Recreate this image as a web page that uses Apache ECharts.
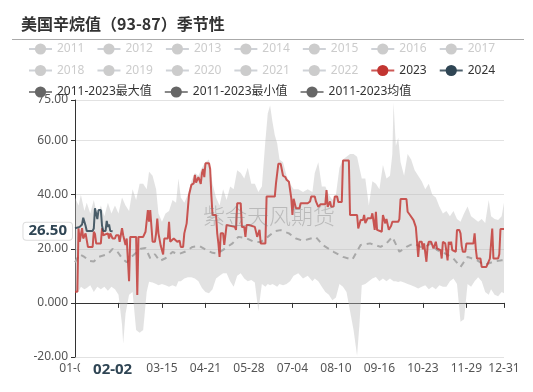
<!DOCTYPE html>
<html><head><meta charset="utf-8">
<script src="https://cdn.jsdelivr.net/npm/echarts@6/dist/echarts.min.js"></script>
<style>html,body{margin:0;padding:0;background:#fff}#c{width:533px;height:392px}</style>
</head><body><div id="c"></div>
<script>
// ---------- text ----------
const titleText = '美国辛烷值（93-87）季节性';
const watermarkText = '紫金天风期货';
const yearNames = ['2011','2012','2013','2014','2015','2016','2017','2018','2019','2020','2021','2022','2023','2024'];
const maxName = '2011-2023最大值';
const minName = '2011-2023最小值';
const meanName = '2011-2023均值';

// ---------- categories (MM-DD of a leap year) ----------
const monthDays = [31,29,31,30,31,30,31,31,30,31,30,31];
const categories = [];
monthDays.forEach((n, m) => { for (let d = 1; d <= n; d++) categories.push(String(m+1).padStart(2,'0') + '-' + String(d).padStart(2,'0')); });

// ---------- data: [day index into categories, value] ----------
const data2023 = [[0,4.1],[2,4.1],[3,27.6],[4,22.6],[5,22.6],[6,27.6],[7,23.8],[8,23.8],[9,25.7],[10,25.7],[11,20.7],[15,20.7],[16,26.3],[17,25.5],[18,22],[22,22],[23,27.6],[24,25],[25,25.7],[28,25.7],[29,23.8],[30,25.7],[31,25.7],[32,23.8],[34,23.8],[35,25],[37,25],[38,22.6],[39,22.6],[40,27.6],[41,25],[42,25],[43,21.4],[44,23.8],[45,23.5],[46,8],[47,24.4],[52,24.4],[53,2.9],[54,24.4],[58,24.4],[60,26.3],[61,25.7],[62,34.3],[63,30],[64,34.3],[65,34.3],[66,22.6],[68,22.6],[69,25.7],[70,31.2],[71,25.7],[72,25.7],[73,21],[74,21],[75,17.9],[76,23.8],[79,23.8],[80,30],[81,22.6],[84,23.8],[87,22.6],[89,23],[90,20.7],[92,20.7],[93,25.7],[95,29.4],[96,29.4],[97,39.9],[99,43.6],[101,44.2],[102,47.3],[103,44.5],[105,46.5],[106,46.5],[107,44],[108,47.9],[109,49.5],[110,46.5],[111,51.6],[114,51.6],[115,49.5],[116,39.9],[117,32.5],[120,32.5],[121,25.7],[122,22],[123,17],[124,25.7],[126,25.7],[127,21.4],[129,28.8],[136,28.1],[137,27],[138,36.8],[141,36.8],[142,28.1],[144,28.1],[145,24.4],[146,28.8],[148,28.8],[149,28.1],[153,28.1],[155,24.4],[157,27],[158,22],[162,22],[163,39.3],[170,39.3],[171,44.2],[173,51.4],[175,51.4],[177,47],[179,46.5],[180,45.5],[182,44.8],[184,38.7],[185,32.5],[186,38.5],[188,35],[191,35],[192,36.8],[198,36.8],[200,37.5],[201,39.3],[204,39.3],[205,37.5],[207,35.5],[209,36.5],[213,36.5],[214,41.7],[215,35.5],[217,37.5],[218,35.5],[220,35.6],[221,39.3],[223,39.3],[224,37.3],[227,37.3],[228,52.6],[233,52.6],[234,32.5],[240,32.5],[241,27.5],[243,30.6],[245,30.6],[246,32.5],[247,29.5],[249,31.3],[252,31.3],[253,33.1],[255,27],[256,33.7],[257,27],[258,26.3],[261,26.3],[262,32.5],[263,33.1],[264,29.4],[265,31],[267,27],[268,27],[269,28.5],[270,30],[275,30],[276,31],[277,38.4],[282,38.4],[283,33.7],[285,32.5],[288,30.6],[289,30.6],[290,28],[291,22.6],[292,17],[293,22.6],[295,22.6],[296,19.8],[297,22],[298,22],[299,15.2],[300,21],[301,22.6],[303,22.6],[305,20.1],[307,22.6],[308,20.1],[309,20.1],[311,19.5],[312,16.4],[313,22.6],[315,22],[316,19],[317,15.7],[318,22.6],[319,21.5],[320,22.6],[321,19.5],[322,18.9],[324,18.9],[325,26.9],[327,26.9],[328,25.7],[329,21],[330,18.9],[332,18.9],[333,22],[339,22],[340,25.7],[341,20],[342,16.4],[345,16.4],[346,13.3],[350,13.3],[351,14],[353,16.4],[354,16.4],[355,27.5],[356,16.4],[360,16.4],[361,18],[362,27.3],[365,27.3]];

const data2024 = [[0,27.6],[1,28.1],[4,28.1],[5,27.6],[6,29],[7,31.5],[8,31.5],[9,28.5],[10,26.6],[15,26.6],[16,27.5],[17,35],[18,35],[19,31],[20,34.3],[22,34.3],[23,28.5],[24,26.6],[26,26.6],[27,30.3],[28,28.1],[29,29],[30,26.6],[32,26.5]];

const bandX = [0,3,5,8,10,13,16,19,22,25,28,31,34,37,40,41,43,46,49,52,55,58,61,63,66,69,71,74,77,80,83,86,88,90,93,96,99,102,105,108,111,114,117,120,123,126,129,132,135,138,141,144,147,150,153,156,159,162,164,166,168,170,172,174,177,180,183,186,190,194,198,202,204,207,210,213,216,219,222,225,228,231,234,237,240,242,244,247,250,253,256,259,262,265,268,270,271,273,275,277,280,283,286,289,292,295,298,301,304,307,310,313,316,319,322,325,328,331,334,337,340,343,346,349,352,354,357,360,363,365];
const bandMax = [39,36,40,34,37,33,38,32,36,32,37,33,36,33,39,39,36,34,42,38,44,44,42,48.5,47,42,33,30,33,34,38,37,46,39,37,40,45,48,47,50,52,53,44,39,36,42,38,43,42,49,48,46,50,44,44,41,43,60,70,73,67,62,59,53,52,47,44,42,42,41,42,41,48,52,43,43,40,38,40,50,53,54,55,55,54,50,46,46,36,45,44,42,51,46,47,55,74,58,61,52,47,55,53,49,47,45,42,44,40,39,35.6,33,34,32,34,31,30,33,35.6,32,31,30,31,29.5,38,32,31,30.6,32,37];
const bandMin = [3.8,4,6,5,5.5,6.5,4,6,5,6,4.5,6,5,3,-8,-15,-4,3,4,-10,-11,-10,4,7.8,7.5,7,6.5,7,6.5,6,6.5,6,8,8,9,9.5,9.5,9,8,5.5,4,3.6,5,9,10,11,11,8,6,10,11,9,8,8.5,7.5,-3,7,6,7,6.5,7,6.5,6,7,6.5,7,8,10,11,9,10,8,9,8,6,4,3,1,2,7,6,4,-3,-10,-19.5,-8,6.5,7,8,9,9.6,8,9,8,9,7.5,8,8,7.7,8,7.5,7,6.5,6,5.3,6,6.5,5,6,5,6.5,6,6,8,9,7,-7,-6,7,6,8,9.5,8,4,3,5,3,2.5,4,3.6];

const meanData = [[0,15],[4,18],[8,17],[12,15.5],[16,15.3],[20,17],[24,17.5],[28,18],[32,20],[36,19],[40,16.5],[44,15],[48,17],[52,18.5],[56,20],[60,20.3],[64,16.5],[68,18],[72,15.5],[77,16.5],[83,18.8],[88,18],[94,19],[100,20.7],[106,21],[112,19.5],[117,18.5],[121,18.2],[126,19.6],[134,22],[139,24.4],[146,23.9],[152,22.6],[158,22.5],[164,24.4],[170,26.5],[175,26.9],[182,25.7],[188,23.8],[194,23],[199,23.6],[205,24.3],[211,21.3],[220,18.9],[228,17],[236,16],[243,21.4],[251,22],[260,20.7],[265,22],[270,24.4],[276,18.9],[282,20.7],[288,22],[294,20.7],[298,20.7],[303,22],[308,19.5],[314,18.5],[322,16.4],[328,13.3],[334,17],[342,15.8],[348,14],[356,15.2],[363,15.8],[365,15.8]];

// pointer (last 2024 value)
const pointerDay = '02-02';
const pointerValue = 26.5;

// ---------- build ----------
const fontFam = "'Noto Sans','Noto Sans CJK SC',sans-serif";
const labelEvery = (i) => i % 37 === 0 || i === categories.length - 1;

const series = [];
yearNames.slice(0, 12).forEach(n => series.push({ name: n, type: 'line', data: [], symbol: 'circle', showSymbol: false }));
series.push({
  name: minName, type: 'line', stack: 'band', stackStrategy: 'all', symbol: 'circle', showSymbol: false,
  data: bandX.map((x, i) => [x, bandMin[i]]),
  lineStyle: { opacity: 0 }, itemStyle: { color: '#666' }, silent: true, z: 1
});
series.push({
  name: maxName, type: 'line', stack: 'band', stackStrategy: 'all', symbol: 'circle', showSymbol: false,
  data: bandX.map((x, i) => [x, bandMax[i] - bandMin[i]]),
  lineStyle: { opacity: 0 }, itemStyle: { color: '#666' },
  areaStyle: { color: 'rgba(185,185,185,0.42)', opacity: 1 }, silent: true, z: 1
});
series.push({
  name: meanName, type: 'line', symbol: 'circle', showSymbol: false, data: meanData,
  itemStyle: { color: '#666' }, lineStyle: { color: '#a8a8a8', width: 2, type: [6, 5] }, z: 2
});
series.push({
  name: '2023', type: 'line', symbol: 'circle', showSymbol: false, data: data2023,
  itemStyle: { color: '#c23531' }, lineStyle: { color: '#c23531', width: 2, opacity: 0.82 }, z: 3
});
series.push({
  name: '2024', type: 'line', symbol: 'circle', showSymbol: false, data: data2024,
  itemStyle: { color: '#2f4554' }, lineStyle: { color: '#2f4554', width: 2, opacity: 0.85 }, z: 4
});

const selected = {};
yearNames.slice(0, 12).forEach(n => selected[n] = false);

const legendBase = {
  left: 28, padding: 0, itemWidth: 23, itemHeight: 14, itemGap: 12, orient: 'horizontal',
  inactiveColor: '#ccc', selected: selected,
  textStyle: { fontSize: 12, color: '#333', fontFamily: fontFam }
};
const statLegendStyle = { lineStyle: { opacity: 1, color: '#888', width: 2, type: 'solid' }, itemStyle: { color: '#666' } };

const option = {
  animation: false,
  textStyle: { fontFamily: fontFam },
  title: {
    text: titleText, left: 16, top: 11, padding: 5,
    textStyle: { fontSize: 16, fontWeight: 'bold', color: '#333', fontFamily: "'Noto Sans CJK SC',sans-serif" }
  },
  legend: [
    Object.assign({}, legendBase, { top: 43, data: yearNames.slice(0, 7) }),
    Object.assign({}, legendBase, { top: 64.5, data: yearNames.slice(7) }),
    Object.assign({}, legendBase, { top: 86, data: [maxName, minName, meanName].map(n => Object.assign({ name: n }, statLegendStyle)) })
  ],
  grid: { left: 75, right: 29, top: 100, bottom: 35 },
  xAxis: [
    {
      type: 'category', data: categories, boundaryGap: false, position: 'bottom',
      axisLine: { show: false, onZero: false }, axisTick: { show: false },
      axisLabel: { interval: labelEvery, color: '#555', fontSize: 12, margin: 6 },
      splitLine: { show: false },
      axisPointer: {
        show: true, type: 'line', value: pointerDay, status: 'show', triggerTooltip: false,
        lineStyle: { opacity: 0 },
        label: { show: true, color: '#2f4554', fontWeight: 'bold', fontSize: 15, backgroundColor: '#fff', padding: [2, 13], margin: 3 }
      }
    },
    {
      type: 'category', data: categories, boundaryGap: false, position: 'bottom',
      axisLine: { show: true, onZero: true, lineStyle: { color: '#333', width: 1 } },
      axisTick: { show: true, interval: labelEvery, length: 5, lineStyle: { color: '#333' } },
      axisLabel: { show: false }, splitLine: { show: false }
    }
  ],
  yAxis: {
    type: 'value', min: -20, max: 75, interval: 20,
    axisLine: { show: true, lineStyle: { color: '#333' } },
    axisTick: { show: true, length: 4 },
    axisLabel: { formatter: v => Number(v).toPrecision(4), color: '#555', fontSize: 12, margin: 7 },
    splitLine: { lineStyle: { color: '#e2e2e2' } },
    axisPointer: {
      show: true, type: 'line', value: pointerValue, status: 'show', triggerTooltip: false,
      lineStyle: { opacity: 0 },
      label: {
        show: true, formatter: p => Number(p.value).toPrecision(4),
        color: '#2f4554', fontWeight: 'bold', fontSize: 15, backgroundColor: '#fff',
        borderColor: '#ddd', borderWidth: 1, padding: [1, 5], margin: 3
      }
    }
  },
  graphic: [
    { type: 'line', shape: { x1: 12, y1: 39.5, x2: 524, y2: 39.5 }, style: { stroke: '#aaa', lineWidth: 1 }, silent: true },
    { type: 'text', x: 269, y: 216, z: 100, silent: true,
      style: { text: watermarkText, fontSize: 22, fill: 'rgba(120,120,120,0.38)', align: 'center', verticalAlign: 'middle', fontFamily: "'Noto Sans CJK SC',sans-serif", fontWeight: 300 } }
  ],
  series: series
};

const chart = echarts.init(document.getElementById('c'), null, { renderer: 'canvas' });
chart.setOption(option);
</script>
</body></html>
